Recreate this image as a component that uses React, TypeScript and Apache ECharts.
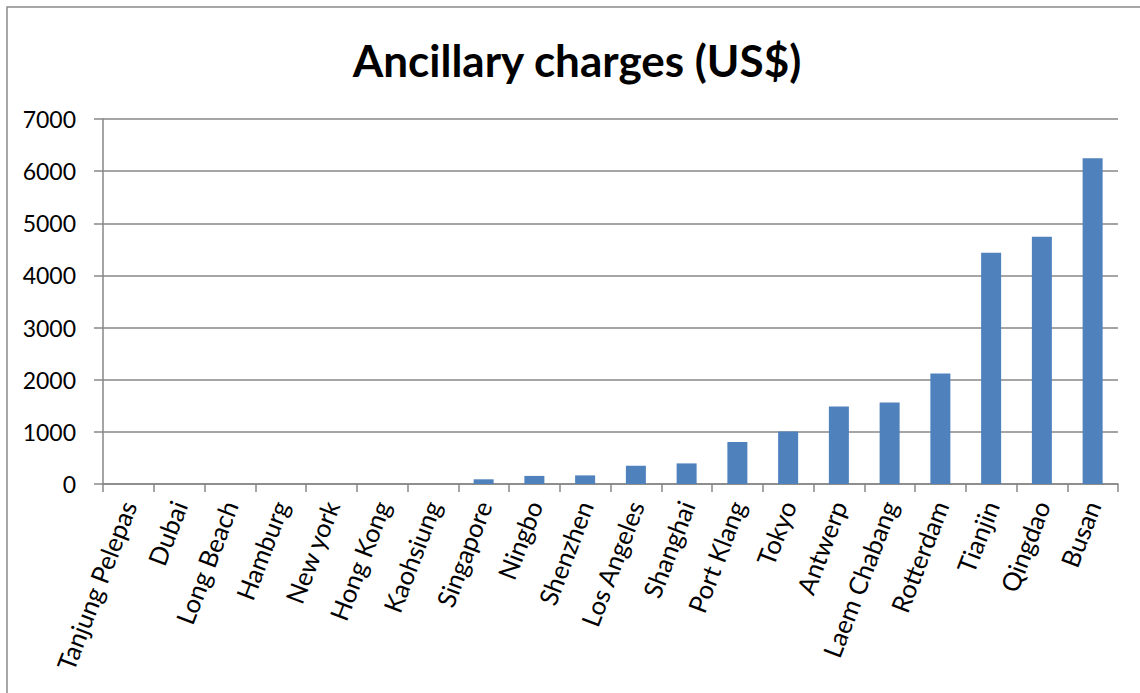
import React, { useEffect, useRef } from "react";
import * as echarts from "echarts";

const categories = [
  "Tanjung Pelepas", "Dubai", "Long Beach", "Hamburg", "New york", "Hong Kong", "Kaohsiung",
  "Singapore", "Ningbo", "Shenzhen", "Los Angeles", "Shanghai", "Port Klang", "Tokyo",
  "Antwerp", "Laem Chabang", "Rotterdam", "Tianjin", "Qingdao", "Busan",
];
const charges = [
  0, 0, 0, 0, 0, 0, 0,
  90, 155, 165, 350, 395, 805, 1005,
  1485, 1565, 2120, 4435, 4740, 6245,
];
const titleText = "Ancillary charges (US$)";

export default function App() {
  const ref = useRef<HTMLDivElement>(null);
  useEffect(() => {
    if (!ref.current) return;
    const chart = echarts.init(ref.current, undefined, { renderer: "svg" });
    chart.setOption({
      animation: false,
      backgroundColor: "#ffffff",
      graphic: [
        {
          type: "rect",
          shape: { x: 7, y: 7, width: 1150, height: 700 },
          style: { fill: "none", stroke: "#8a8a8a", lineWidth: 1.5 },
          z: 100,
        },
        {
          type: "text",
          x: 577,
          y: 60,
          style: {
            text: titleText,
            font: "bold 44px Lato",
            fill: "#000000",
            align: "center",
            verticalAlign: "middle",
          },
        },
      ],
      grid: { left: 103, right: 22, top: 119, bottom: 209, containLabel: false },
      xAxis: {
        type: "category",
        data: categories,
        axisLine: { show: true, lineStyle: { color: "#878787", width: 1.5 } },
        axisTick: { show: true, length: 8, lineStyle: { color: "#878787", width: 1.5 } },
        axisLabel: {
          interval: 0,
          rotate: 69,
          margin: 18,
          color: "#000000",
          fontFamily: "Lato",
          fontSize: 25.5,
        },
      },
      yAxis: {
        type: "value",
        min: 0,
        max: 7000,
        interval: 1000,
        axisLine: { show: true, lineStyle: { color: "#878787", width: 1.5 } },
        axisTick: { show: true, length: 9, lineStyle: { color: "#878787", width: 1.5 } },
        axisLabel: {
          margin: 27,
          color: "#000000",
          fontFamily: "Lato",
          fontSize: 23,
          formatter: (v: number) => String(v),
        },
        splitLine: { show: true, lineStyle: { color: "#878787", width: 1.5 } },
      },
      series: [
        {
          type: "bar",
          data: charges,
          barWidth: 20,
          itemStyle: { color: "#4F81BD" },
        },
      ],
    });
    return () => chart.dispose();
  }, []);
  return (
    <div
      ref={ref}
      style={{ position: "fixed", left: 0, top: 0, width: 1140, height: 693 }}
    />
  );
}
